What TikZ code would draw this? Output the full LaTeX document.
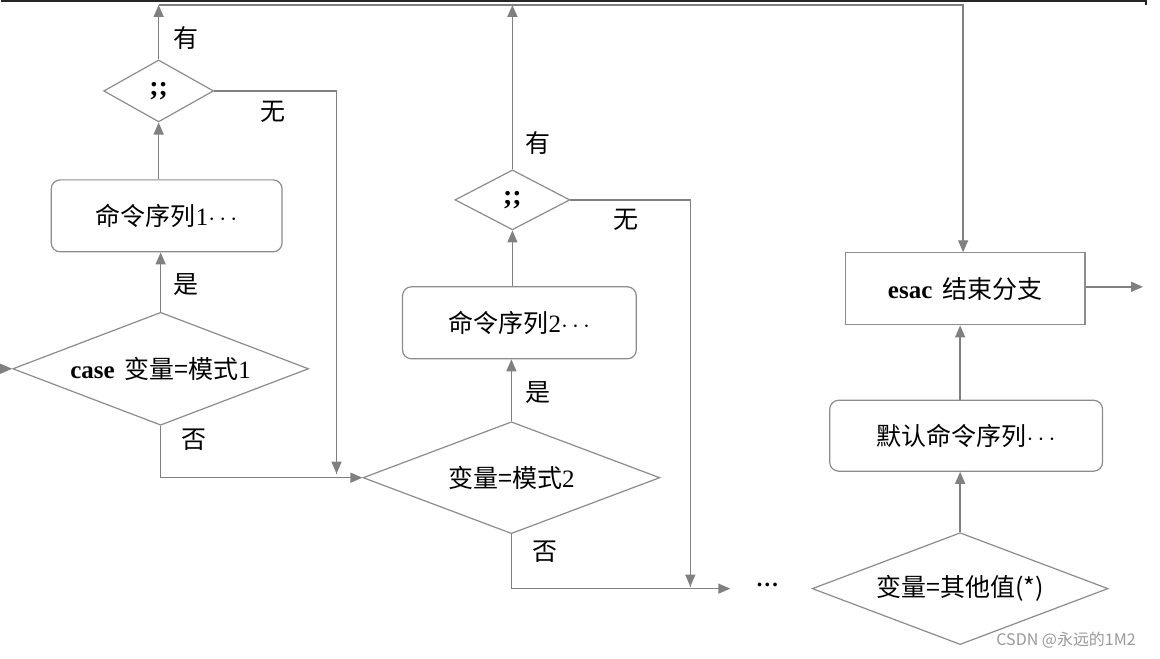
\documentclass[tikz,border=0pt]{standalone}
\usepackage{fontspec}
\setmainfont{Liberation Serif}
\newfontfamily\cjk{Noto Sans CJK SC}
\usetikzlibrary{shapes.geometric,arrows.meta}

\begin{document}
\begin{tikzpicture}[x=1pt,y=-1pt,
		line/.style={draw=black!50,line width=1.4pt},
		arr/.style={line,-{Triangle[length=12pt,width=10pt]}},
		box/.style={draw=black!45,line width=1.2pt,inner sep=0pt,font=\fontsize{25}{30}\selectfont},
		rbox/.style={box,rounded corners=9pt},
		dia/.style={diamond,draw=black!45,line width=1.2pt,inner sep=0pt,aspect=2.6,font=\fontsize{25}{30}\selectfont},
		lab/.style={font=\cjk\fontsize{25}{30}\selectfont}]
		\fill[white] (0,0) rectangle (1160,659);
		\draw[black!85,line width=1.5pt] (0,1) -- (1146,1) -- (1146,5);
		% first branch
		\node[dia,minimum width=110pt,minimum height=62pt] (semi1) at (158,91) {\bfseries\fontsize{28}{30}\selectfont ;;};
		\node[rbox,minimum width=231pt,minimum height=72pt] (seq1) at (166,216) {{\cjk 命令序列}1\ensuremath{\cdots}};
		\node[dia,minimum width=296pt,minimum height=113pt] (case1) at (160,369) {{\bfseries case}\hspace{10pt}{\cjk 变量=模式}1};
		% second branch
		\node[dia,minimum width=115pt,minimum height=60pt] (semi2) at (512,200) {\bfseries\fontsize{28}{30}\selectfont ;;};
		\node[rbox,minimum width=234pt,minimum height=72pt] (seq2) at (519,323) {{\cjk 命令序列}2\ensuremath{\cdots}};
		\node[dia,minimum width=297pt,minimum height=112pt] (case2) at (511,478) {{\cjk 变量=模式}2};
		% default and end
		\node[box,minimum width=240pt,minimum height=72pt] (esac) at (965,289) {{\bfseries esac}\hspace{10pt}{\cjk 结束分支}};
		\node[rbox,minimum width=273pt,minimum height=71pt] (seqd) at (966,436) {{\cjk 默认命令序列}\ensuremath{\cdots}};
		\node[dia,minimum width=296pt,minimum height=112pt] (cased) at (960,589) {\cjk 变量=其他值(*)};
		\node[font=\bfseries\fontsize{23}{28}\selectfont] (dots) at (767,585) {…};
		% labels
		\node[lab] (yes1) at (185,285) {是};
		\node[lab] (no1) at (193,440) {否};
		\node[lab] (has1) at (185,38) {有};
		\node[lab] (none1) at (272,112) {无};
		\node[lab] (yes2) at (538,393) {是};
		\node[lab] (no2) at (545,552) {否};
		\node[lab] (has2) at (538,143) {有};
		\node[lab] (none2) at (626,220) {无};
		\node[font=\cjk\fontsize{16}{18}\selectfont,text=black!40] (mark) at (1066,641) {CSDN @永远的1M2};
		% connectors
		\coordinate (start) at (0,369);
		\coordinate (topr) at (963,5);
		\coordinate (join1) at (336,474);
		\coordinate (join2) at (690,587);
		\coordinate (join3) at (730,589);
		\coordinate (out) at (1143,287);
		\draw[arr] (start) -- (case1.west);
		\draw[arr] (case1.north) -- (case1.north |- seq1.south);
		\draw[arr] (seq1.north -| semi1.south) -- (semi1.south);
		\draw[arr] (semi1.north) -- (semi1.north |- topr);
		\draw[line] (semi1.east) -| (join1);
		\draw[arr] (semi1.east -| join1) -- (join1);
		\draw[arr] (case1.south) |- (case2.west);
		\draw[arr] (case2.north) -- (case2.north |- seq2.south);
		\draw[arr] (seq2.north -| semi2.south) -- (semi2.south);
		\draw[arr] (semi2.north) -- (semi2.north |- topr);
		\draw[line] (semi2.east) -| (join2);
		\draw[arr] (semi2.east -| join2) -- (join2);
		\draw[arr] (case2.south) |- (join3);
		\draw[arr] (semi1.north |- topr) -- (topr) -- (topr |- esac.north);
		\draw[arr] (cased.north) -- (cased.north |- seqd.south);
		\draw[arr] (seqd.north -| cased.north) -- (cased.north |- esac.south);
		\draw[arr] (esac.east |- out) -- (out);
\end{tikzpicture}
\end{document}
